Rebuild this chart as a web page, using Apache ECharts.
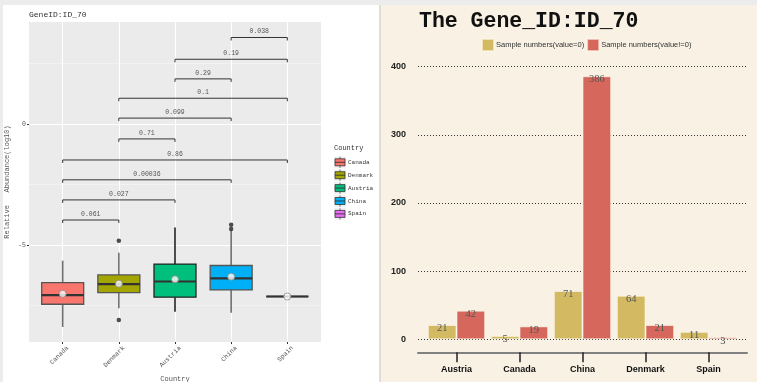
<!DOCTYPE html>
<html><head><meta charset="utf-8">
<script src="https://cdn.jsdelivr.net/npm/echarts@6/dist/echarts.min.js"></script>
<style>
html,body{margin:0;padding:0;width:757px;height:382px;overflow:hidden;background:#ececec;}
#lp{position:absolute;left:3px;top:5px;width:376px;height:377px;background:#fff;}
#dv{position:absolute;left:379px;top:5px;width:2px;height:377px;background:#e0dcd7;}
#rp{position:absolute;left:381px;top:5px;width:376px;height:377px;background:#f8f1e4;}
#c{position:absolute;left:0;top:0;width:757px;height:382px;}
</style></head><body>
<div id="lp"></div><div id="dv"></div><div id="rp"></div><div id="c"></div>
<script>
// ---- left panel: box plot data ----
const countries = ['Canada', 'Denmark', 'Austria', 'China', 'Spain'];
const boxColors = ['#F8766D', '#A3A500', '#00BF7D', '#00B0F6', '#E76BF3'];
const boxBorders = ['#555555', '#555555', '#222222', '#555555', '#333333'];
const whiskerColors = ['#707070', '#707070', '#222222', '#707070', '#333333'];
// [min, Q1, median, Q3, max]
const boxStats = [
  [-8.39, -7.45, -7.07, -6.56, -5.65],
  [-7.62, -6.97, -6.62, -6.24, -5.32],
  [-7.76, -7.16, -6.51, -5.79, -4.28],
  [-7.80, -6.86, -6.38, -5.85, -4.40],
  [-7.13, -7.13, -7.13, -7.13, -7.13]
];
const meanValues = [-7.02, -6.60, -6.42, -6.31, -7.13];
const outlierPoints = [[1, -4.83], [1, -8.10], [3, -4.17], [3, -4.34]];
// [group1 index, group2 index, bracket height, p-value label]
const comparisons = [
  [3, 4, 3.57, '0.038'],
  [2, 4, 2.67, '0.19'],
  [2, 3, 1.86, '0.29'],
  [1, 4, 1.06, '0.1'],
  [1, 3, 0.24, '0.099'],
  [1, 2, -0.62, '0.71'],
  [0, 4, -1.49, '0.86'],
  [0, 3, -2.31, '0.00036'],
  [0, 2, -3.14, '0.027'],
  [0, 1, -3.97, '0.061']
];
const yMajorTicks = [-5, 0];
const yMinorTicks = [-7.5, -2.5, 2.5];
const yRange = [-9.01, 4.21];

// ---- right panel: bar data ----
const barCategories = ['Austria', 'Canada', 'China', 'Denmark', 'Spain'];
const zeroCounts = [21, 5, 71, 64, 11];
const nonZeroCounts = [42, 19, 386, 21, 3];

const mono = "'Liberation Mono','DejaVu Sans Mono',monospace";
const sans = "'Liberation Sans',Arial,sans-serif";
const serif = "'Liberation Serif','Times New Roman',serif";

const chart = echarts.init(document.getElementById('c'), null, {renderer: 'canvas'});

// left legend (ggplot style keys)
const legendEls = [{
  type: 'text', left: 334, top: 145,
  style: {text: 'Country', font: '7px ' + mono, fill: '#333'}
}];
countries.forEach((name, i) => {
  const cy = 162.3 + i * 12.9;
  legendEls.push(
    {type: 'rect', shape: {x: 334, y: cy - 6, width: 12, height: 12}, style: {fill: '#f2f2f2'}},
    {type: 'line', shape: {x1: 340, y1: cy - 5.5, x2: 340, y2: cy + 5.5}, style: {stroke: '#444', lineWidth: 0.8}},
    {type: 'rect', shape: {x: 335, y: cy - 3.5, width: 10, height: 7}, style: {fill: boxColors[i], stroke: '#333', lineWidth: 0.8}},
    {type: 'line', shape: {x1: 335, y1: cy, x2: 345, y2: cy}, style: {stroke: '#333', lineWidth: 0.9}},
    {type: 'text', x: 348, y: cy, style: {text: name, font: '6px ' + mono, fill: '#333', verticalAlign: 'middle'}}
  );
});

const option = {
  animation: false,
  title: [
    {text: 'GeneID:ID_70', left: 29, top: 11, padding: 0,
     textStyle: {fontFamily: mono, fontSize: 8, fontWeight: 'normal', color: '#333'}},
    {text: 'The Gene_ID:ID_70', left: 419, top: 11, padding: 0,
     textStyle: {fontFamily: mono, fontSize: 21.5, fontWeight: 'bold', color: '#111'}}
  ],
  legend: {
    data: ['Sample numbers(value=0)', 'Sample numbers(value!=0)'],
    left: 481, top: 38, padding: 0, itemWidth: 12, itemHeight: 12, itemGap: 2,
    icon: 'rect',
    textStyle: {fontFamily: sans, fontSize: 7.5, color: '#333', padding: [0, 0, 0, -3]}
  },
  graphic: {elements: legendEls},
  grid: [
    {left: 425, right: 17, top: 66.7, bottom: 42.7, outerBoundsMode: 'none'},
    {left: 418, right: 10, top: 66.7, bottom: 42.7, outerBoundsMode: 'none'},
    {left: 29, width: 292, top: 22, height: 320, show: true, backgroundColor: '#EBEBEB', borderWidth: 0, outerBoundsMode: 'none'},
    {left: 34.6, width: 280.8, top: 22, height: 320, outerBoundsMode: 'none'}
  ],
  xAxis: [
    {gridIndex: 0, type: 'category', data: barCategories, offset: 13,
     axisLine: {show: false, onZero: false},
     axisTick: {show: true, alignWithLabel: true, length: 10, lineStyle: {color: '#222', width: 1.5}},
     axisLabel: {margin: 13, fontFamily: sans, fontSize: 9, fontWeight: 'bold', color: '#111'}},
    {gridIndex: 1, type: 'value', min: 0, max: 1, offset: 13,
     axisLine: {show: true, onZero: false, lineStyle: {color: '#808080', width: 2}},
     axisTick: {show: false}, axisLabel: {show: false}, splitLine: {show: false}},
    {gridIndex: 2, type: 'value', min: 0, max: 1, show: false},
    {gridIndex: 3, type: 'category', data: countries,
     name: 'Country', nameLocation: 'middle', nameGap: 32,
     nameTextStyle: {fontFamily: mono, fontSize: 7, color: '#555'},
     axisLine: {show: false, onZero: false},
     axisTick: {show: true, alignWithLabel: true, length: 2, lineStyle: {color: '#333'}},
     axisLabel: {rotate: 45, margin: 10, padding: [14, -7, 0, 0], fontFamily: mono, fontSize: 6.5, color: '#555'},
     splitLine: {show: false}}
  ],
  yAxis: [
    {gridIndex: 0, type: 'value', min: 0, max: 400, show: false},
    {gridIndex: 1, type: 'value', min: 0, max: 400, interval: 100,
     axisLine: {show: false}, axisTick: {show: false},
     axisLabel: {margin: 12, fontFamily: sans, fontSize: 9, fontWeight: 'bold', color: '#222'},
     splitLine: {show: true, lineStyle: {color: '#333', type: [1, 2], width: 1}}},
    {gridIndex: 2, type: 'value', min: yRange[0], max: yRange[1],
     name: 'Relative   Abundance(log10)', nameLocation: 'middle', nameGap: 18, nameRotate: 90,
     nameTextStyle: {fontFamily: mono, fontSize: 7, color: '#555'},
     axisLine: {show: false},
     axisTick: {show: true, length: 2, customValues: yMajorTicks, lineStyle: {color: '#333'}},
     axisLabel: {show: true, margin: 3, customValues: yMajorTicks, fontFamily: mono, fontSize: 6.5, color: '#555'},
     splitLine: {show: false}},
    {gridIndex: 3, type: 'value', min: yRange[0], max: yRange[1], show: false}
  ],
  series: [
    {name: 'Sample numbers(value=0)', type: 'bar', xAxisIndex: 0, yAxisIndex: 0,
     data: zeroCounts, barGap: '0%', barCategoryGap: '9%',
     itemStyle: {color: '#D4B963', borderColor: 'rgba(255,250,235,0.6)', borderWidth: 1},
     label: {show: true, position: 'top', distance: -9, fontFamily: serif, fontSize: 10.5, color: '#555'}},
    {name: 'Sample numbers(value!=0)', type: 'bar', xAxisIndex: 0, yAxisIndex: 0,
     data: nonZeroCounts, barGap: '0%', barCategoryGap: '9%',
     itemStyle: {color: '#D6675C', borderColor: 'rgba(255,250,235,0.6)', borderWidth: 1},
     label: {show: true, position: 'top', distance: -9, fontFamily: serif, fontSize: 10.5, color: '#555'}},
    // panel grid lines (ggplot)
    {type: 'scatter', xAxisIndex: 2, yAxisIndex: 2, data: [[0.5, -20]], symbolSize: 0, silent: true, z: 1,
     markLine: {silent: true, symbol: 'none', label: {show: false}, animation: false, z: 1,
       data: yMinorTicks.map(v => ({yAxis: v, lineStyle: {color: '#f7f7f7', width: 0.6, type: 'solid'}}))
         .concat(yMajorTicks.map(v => ({yAxis: v, lineStyle: {color: '#ffffff', width: 1.1, type: 'solid'}})))}},
    {type: 'scatter', xAxisIndex: 3, yAxisIndex: 3, data: [[0, -20]], symbolSize: 0, silent: true, z: 1,
     markLine: {silent: true, symbol: 'none', label: {show: false}, animation: false, z: 1,
       data: countries.map(c => ({xAxis: c, lineStyle: {color: '#ffffff', width: 1.1, type: 'solid'}}))}},
    // box plots (ggplot style, no whisker caps)
    {type: 'custom', xAxisIndex: 3, yAxisIndex: 3, z: 3,
     data: boxStats.map((s, i) => [i].concat(s)),
     encode: {x: 0, y: [1, 2, 3, 4, 5]},
     renderItem: function (params, api) {
       const i = params.dataIndex;
       const x = api.value(0);
       const pMin = api.coord([x, api.value(1)]);
       const pQ1 = api.coord([x, api.value(2)]);
       const pMed = api.coord([x, api.value(3)]);
       const pQ3 = api.coord([x, api.value(4)]);
       const pMax = api.coord([x, api.value(5)]);
       const hw = 21;
       const cx = pMed[0];
       return {type: 'group', children: [
         {type: 'line', shape: {x1: cx, y1: pMin[1], x2: cx, y2: pQ1[1]}, style: {stroke: whiskerColors[i], lineWidth: 1.6}},
         {type: 'line', shape: {x1: cx, y1: pQ3[1], x2: cx, y2: pMax[1]}, style: {stroke: whiskerColors[i], lineWidth: 1.6}},
         {type: 'rect', shape: {x: cx - hw, y: pQ3[1], width: 2 * hw, height: pQ1[1] - pQ3[1]},
          style: {fill: boxColors[i], stroke: boxBorders[i], lineWidth: 1.3}},
         {type: 'line', shape: {x1: cx - hw, y1: pMed[1], x2: cx + hw, y2: pMed[1]}, style: {stroke: '#333', lineWidth: 2.2}}
       ]};
     }},
    {type: 'scatter', xAxisIndex: 3, yAxisIndex: 3, data: outlierPoints, symbolSize: 4.5, z: 4,
     itemStyle: {color: '#222'}},
    {type: 'scatter', xAxisIndex: 3, yAxisIndex: 3, data: meanValues.map((v, i) => [i, v]), symbolSize: 7, z: 5,
     itemStyle: {color: '#ffffff', borderColor: '#888', borderWidth: 1}},
    {type: 'custom', xAxisIndex: 3, yAxisIndex: 3, z: 6,
     data: comparisons.map(c => [c[0], c[1], c[2]]),
     encode: {x: [0, 1], y: 2},
     renderItem: function (params, api) {
       const p1 = api.coord([api.value(0), api.value(2)]);
       const p2 = api.coord([api.value(1), api.value(2)]);
       return {type: 'group', children: [
         {type: 'polyline', shape: {points: [[p1[0], p1[1] + 3], [p1[0], p1[1]], [p2[0], p2[1]], [p2[0], p2[1] + 3]]},
          style: {stroke: '#333', lineWidth: 1, fill: null}},
         {type: 'text', style: {text: comparisons[params.dataIndex][3], x: (p1[0] + p2[0]) / 2, y: p1[1] - 6,
          align: 'center', verticalAlign: 'middle', fontFamily: mono, fontSize: 6.5, fill: '#555'}}
       ]};
     }}
  ]
};
chart.setOption(option);
</script>
</body></html>
